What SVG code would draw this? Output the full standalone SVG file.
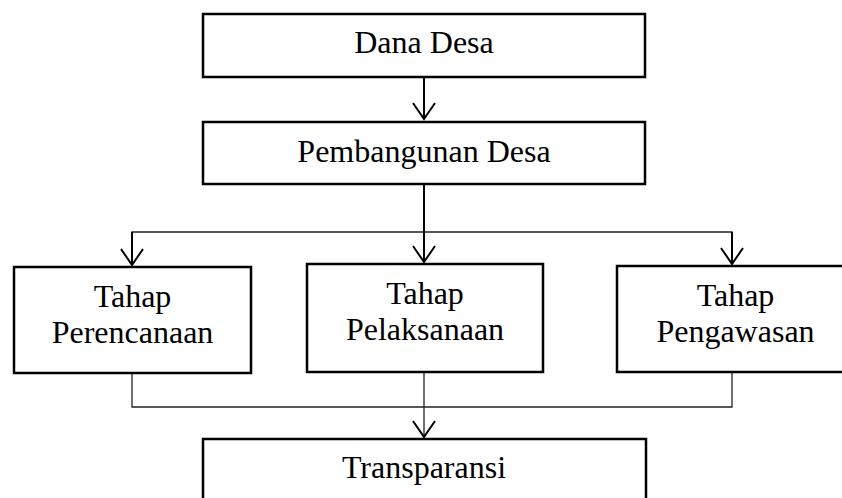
<svg xmlns="http://www.w3.org/2000/svg" width="842" height="498" viewBox="0 0 842 498">
<defs>
<style>
.box{fill:#fff;stroke:#000;stroke-width:2.5}
.t{font-family:"Liberation Serif","Times New Roman",serif;font-size:32px;fill:#000;text-anchor:middle}
.thin{fill:none;stroke:#222;stroke-width:1.3}
.thick{fill:none;stroke:#000;stroke-width:2}
.head{fill:none;stroke:#000;stroke-width:2}
</style>
</defs>
<rect width="842" height="498" fill="#fff"/>
<g id="connectors">
<line class="thick" x1="424" y1="77" x2="424" y2="119"/>
<polyline class="head" points="413,103 424,119 435,103"/>
<line class="thick" x1="424" y1="185" x2="424" y2="262"/>
<polyline class="thin" points="132,262 132,232 732,232 732,264"/>
<polyline class="head" points="413,246 424,262 435,246"/>
<line class="thick" x1="132" y1="232" x2="132" y2="265"/>
<polyline class="head" points="121,249 132,265 143,249"/>
<line class="thick" x1="732" y1="232" x2="732" y2="264"/>
<polyline class="head" points="721,248 732,264 743,248"/>
<polyline class="thin" points="132,373 132,407 732,407 732,372"/>
<line class="thin" x1="424" y1="373" x2="424" y2="437"/>
<polyline class="head" points="413,421 424,437 435,421"/>
</g>
<g id="dana-desa">
<rect class="box" x="203" y="14" width="442" height="63"/>
<text class="t" x="424" y="53">Dana Desa</text>
</g>
<g id="pembangunan-desa">
<rect class="box" x="203" y="122" width="442" height="62"/>
<text class="t" x="424" y="162">Pembangunan Desa</text>
</g>
<g id="tahap-perencanaan">
<rect class="box" x="14" y="267" width="237" height="106"/>
<text class="t" x="132.5" y="307">Tahap</text>
<text class="t" x="132.5" y="343">Perencanaan</text>
</g>
<g id="tahap-pelaksanaan">
<rect class="box" x="307" y="264" width="236" height="108"/>
<text class="t" x="425" y="304">Tahap</text>
<text class="t" x="425" y="340">Pelaksanaan</text>
</g>
<g id="tahap-pengawasan">
<rect class="box" x="617" y="266" width="237" height="106"/>
<text class="t" x="735.5" y="306">Tahap</text>
<text class="t" x="735.5" y="342">Pengawasan</text>
</g>
<g id="transparansi">
<rect class="box" x="203" y="439" width="443" height="80"/>
<text class="t" x="424" y="478">Transparansi</text>
</g>
</svg>
